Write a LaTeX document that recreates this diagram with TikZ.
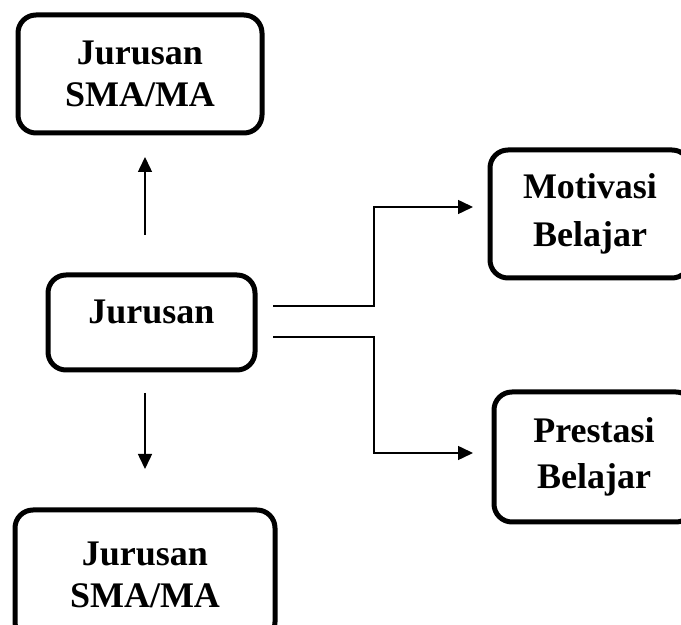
\documentclass[tikz,border=0pt]{standalone}
\usepackage{fontspec}
\setmainfont{Liberation Serif}
\usetikzlibrary{arrows.meta}

\begin{document}
\begin{tikzpicture}[x=0.5pt,y=-0.5pt,
  every node/.style={font=\fontsize{18}{21}\selectfont\bfseries},
  box/.style={draw,line width=2.5pt,rounded corners=9pt,align=center,inner sep=0pt},
  arr/.style={line width=0.75pt,-{Triangle[length=7.5pt,width=7pt]}}]
\useasboundingbox (0,0) rectangle (681,625);
\clip (0,0) rectangle (681,625);
\node[box,minimum width=122pt,minimum height=59pt] (top) at (140,74) {Jurusan\\SMA/MA};
\node[box,minimum width=103.5pt,minimum height=47.5pt,text depth=11pt] (jur) at (151.5,322.5) {Jurusan};
\node[box,minimum width=130pt,minimum height=65pt] (bot) at (145,575) {Jurusan\\SMA/MA};
\node[box,minimum width=100pt,minimum height=64pt,font=\fontsize{18}{24}\selectfont\bfseries] (mot) at (590,214) {Motivasi\\Belajar};
\node[box,minimum width=100pt,minimum height=65pt,font=\fontsize{18}{23}\selectfont\bfseries] (pres) at (594,457) {Prestasi\\Belajar};
\coordinate (u1) at (145,235);\coordinate (u2) at (145,157);
\coordinate (d1) at (145,393);\coordinate (d2) at (145,469);
\coordinate (a1) at (273,306);\coordinate (k1) at (374,207);\coordinate (b1) at (473,207);
\coordinate (a2) at (273,337);\coordinate (k2) at (374,453);\coordinate (b2) at (473,453);
\draw[arr] (u1)--(u2);
\draw[arr] (d1)--(d2);
\draw[arr] (a1) -| (k1) -- (b1);
\draw[arr] (a2) -| (k2) -- (b2);
\end{tikzpicture}
\end{document}
